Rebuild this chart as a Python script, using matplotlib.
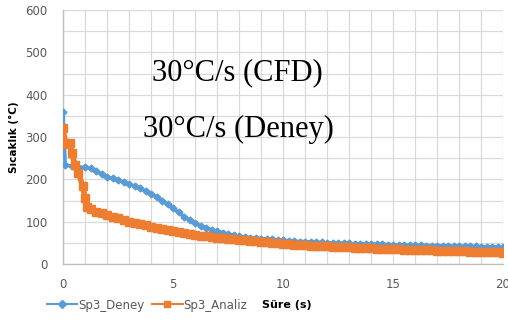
import numpy as np
import matplotlib.pyplot as plt

# measured series (time in s, temperature in °C)
t_deney = [0, 0.1, 0.4, 0.7, 1.0, 1.25, 1.5, 1.75, 2.0, 2.25, 2.5, 2.75, 3.0, 3.25, 3.5,
           3.75, 4.0, 4.25, 4.5, 4.75, 5.0, 5.25, 5.5, 5.75, 6.0, 6.25, 6.5, 6.75, 7.0,
           7.25, 7.5, 7.75, 8.0, 8.25, 8.5, 8.75, 9.0, 9.25, 9.5, 9.75, 10.0, 10.25,
           10.5, 10.75, 11.0, 11.25, 11.5, 11.75, 12.0, 12.25, 12.5, 12.75, 13.0, 13.25,
           13.5, 13.75, 14.0, 14.25, 14.5, 14.75, 15.0, 15.25, 15.5, 15.75, 16.0, 16.25,
           16.5, 16.75, 17.0, 17.25, 17.5, 17.75, 18.0, 18.25, 18.5, 18.75, 19.0, 19.25,
           19.5, 19.75, 20.0]
T_deney = [360, 234, 231, 229, 228, 226, 219, 213, 206, 202, 198, 194, 188, 184, 179,
           172, 166, 159, 150, 141, 132, 122, 112, 104, 97, 90, 85, 81, 77,
           74, 71, 68, 66, 64, 62, 61, 60, 59, 58, 57, 56, 55,
           54, 53, 53, 52, 52, 51, 50, 50, 49.5, 49, 48.5, 48,
           48, 47.5, 47, 47, 46.5, 46, 45.5, 45, 45, 44.5, 44, 44,
           43.5, 43.5, 43, 43, 42.5, 42.5, 42, 42, 41.5, 41.5, 41, 41,
           40.5, 40.5, 40]

t_analiz = [0, 0.1, 0.2, 0.3, 0.4, 0.55, 0.7, 0.9, 1.0, 1.1, 1.25, 1.5, 1.75, 2.0, 2.25,
            2.5, 2.75, 3.0, 3.25, 3.5, 3.75, 4.0, 4.25, 4.5, 4.75, 5.0, 5.25, 5.5, 5.75,
            6.0, 6.25, 6.5, 6.75, 7.0, 7.25, 7.5, 7.75, 8.0, 8.25, 8.5, 8.75, 9.0, 9.25,
            9.5, 9.75, 10.0, 10.25, 10.5, 10.75, 11.0, 11.25, 11.5, 11.75, 12.0, 12.25,
            12.5, 12.75, 13.0, 13.25, 13.5, 13.75, 14.0, 14.25, 14.5, 14.75, 15.0, 15.25,
            15.5, 15.75, 16.0, 16.25, 16.5, 16.75, 17.0, 17.25, 17.5, 17.75, 18.0, 18.25,
            18.5, 18.75, 19.0, 19.25, 19.5, 19.75, 20.0]
T_analiz = [321, 287, 283, 286, 262, 234, 215, 184, 156, 135, 130, 124, 120, 116, 112,
            108, 104, 100, 97, 94, 91, 88, 85, 82, 80, 77, 75, 73, 71,
            69, 67, 66, 64, 62, 61, 59, 58, 57, 56, 55, 54, 52, 51,
            50, 49, 48, 47, 46, 45, 44, 43.5, 43, 42, 41.5, 41,
            40, 39.5, 39, 38.5, 38, 37.5, 37, 36.5, 36, 35.5, 35, 34.5,
            34, 33.5, 33, 33, 32.5, 32, 31.5, 31, 31, 30.5, 30, 30,
            29.5, 29, 29, 28.5, 28, 27.5, 27]

x_ticks = [0, 5, 10, 15, 20]
y_ticks = [0, 100, 200, 300, 400, 500, 600]

blue = "#5B9BD5"
orange = "#ED7D31"
label_col = "#595959"

fig = plt.figure(figsize=(5.08, 3.23), dpi=100)
ax = fig.add_axes([63/508, 1 - 264/323, 440/508, 254/323])

ax.plot(t_deney, T_deney, color=blue, lw=2.6, marker="D", ms=3.5,
        mec=blue, mfc=blue, zorder=3)
ax.plot(t_analiz, T_analiz, color=orange, lw=4, marker="s", ms=5.5,
        mec=orange, mfc=orange, zorder=4)
# thin proxies for the legend
ax.plot([], [], color=blue, lw=1.5, marker="D", ms=4, label="Sp3_Deney")
ax.plot([], [], color=orange, lw=1.5, marker="s", ms=5, label="Sp3_Analiz")

ax.set_xlim(0, 20)
ax.set_ylim(0, 600)
ax.set_xticks(x_ticks)
ax.set_yticks(y_ticks)
ax.set_xticks(np.arange(0, 21, 1), minor=True)
ax.set_yticks(np.arange(0, 601, 50), minor=True)
ax.grid(which="both", color="#d9d9d9", lw=0.9, zorder=0)
ax.set_axisbelow(True)
ax.tick_params(which="both", length=0, labelsize=8.5, labelcolor=label_col)
ax.tick_params(axis="y", pad=11)
ax.tick_params(axis="x", pad=10)
for s in ["top", "right"]:
    ax.spines[s].set_visible(False)
for s in ["left", "bottom"]:
    ax.spines[s].set_color("#bfbfbf")
    ax.spines[s].set_linewidth(1)

ax.set_ylabel("Sıcaklık (°C)", fontsize=7.5, fontweight="bold", labelpad=5)

fig.text(237/508, 1 - 73/323, "30°C/s (CFD)", family="Liberation Serif",
         fontsize=22, ha="center", va="center")
fig.text(238/508, 1 - 129/323, "30°C/s (Deney)", family="Liberation Serif",
         fontsize=22, ha="center", va="center")

fig.legend(loc="center left", bbox_to_anchor=(36/508, 1 - 305/323), ncol=2,
           frameon=False, fontsize=8.5, handlelength=2.6, columnspacing=0.6,
           handletextpad=0.1, labelcolor=label_col)
fig.text(262/508, 1 - 305/323, "Süre (s)", fontsize=8, fontweight="bold",
         va="center", ha="left")

fig.savefig("out.png", dpi=100)
